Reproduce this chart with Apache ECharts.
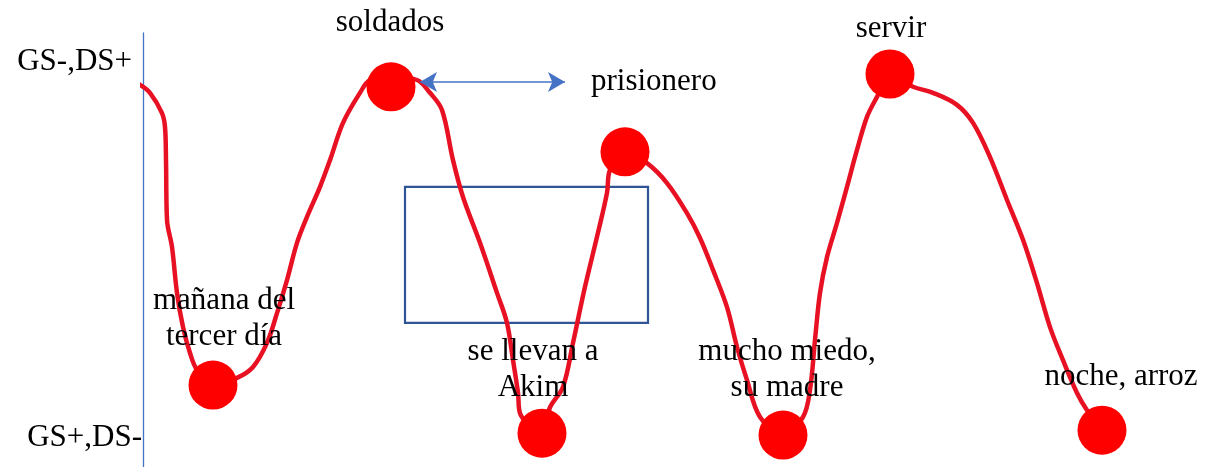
<!DOCTYPE html>
<html>
<head>
<meta charset="utf-8">
<title>GS / DS</title>
<script src="https://cdn.jsdelivr.net/npm/echarts@6/dist/echarts.min.js"></script>
<style>
    html, body { margin: 0; padding: 0; background: #fff; }
    #main { width: 1232px; height: 467px; }
</style>
</head>
<body>
<div id="main"></div>
<script>
// etiquetas del eje vertical (nivel 0 abajo, nivel 100 arriba)
var levelValues = [0, 100];
var levelLabels = ['GS+,DS-', 'GS-,DS+'];

// trazo a mano de la curva roja
var curveX = [-9, -3, 7, 19, 22, 23, 24, 29, 34, 40, 47, 54, 70, 94, 110, 124, 134, 144, 154, 164, 177, 187, 200, 217, 227,
    248, 274, 287, 299, 310, 320, 337, 354, 364, 370, 375, 377, 399, 407, 420, 430, 442, 454, 464, 467, 482,
    504, 524, 544, 557, 570, 584, 594, 604, 617, 640, 660, 667, 672, 677, 684, 694, 704, 714, 724, 734, 747,
    770, 790, 814, 830, 847, 864, 880, 894, 907, 920, 934, 944, 959];
var curveY = [94.4, 93.9, 91.8, 86.4, 82.7, 73.9, 58.0, 50.8, 38.6, 29.5, 22.6, 18.1, 14.1, 16.0, 18.9, 25.3, 33.2, 42.0, 51.9, 58.8, 66.8, 73.9, 83.8, 91.8, 95.2,
    96.0, 95.2, 91.8, 87.2, 73.9, 64.1, 51.9, 38.6, 30.6, 20.7, 12.0, 6.6, 1.3, 8.2, 13.6, 25.3, 40.2, 53.5, 65.2, 71.3, 76.1,
    73.1, 67.8, 59.8, 53.2, 44.7, 34.8, 24.2, 15.4, 5.6, 0.8, 5.6, 12.8, 26.1, 38.6, 48.1, 57.2, 66.8, 76.6, 85.4, 90.7, 96.8,
    93.4, 91.8, 88.6, 83.8, 74.7, 63.3, 52.7, 41.2, 29.5, 20.7, 12.0, 7.4, 2.1];

// puntos (círculos) y sus textos
var pointX = [70, 248, 399, 482, 640, 747, 959];
var pointY = [14.1, 93.4, 1.3, 76.1, 0.8, 96.8, 2.1];
var pointNames = ['mañana del\ntercer día', 'soldados', 'se llevan a\nAkim', '', 'mucho miedo,\nsu madre', 'servir', 'noche, arroz'];

// flecha doble "prisionero" y recuadro azul
var arrowX = [277, 422];
var arrowY = 94.7;
var arrowText = 'prisionero';
var boxX = [262, 505];
var boxY = [30.6, 66.8];

(function () {
    var myChart = echarts.init(document.getElementById('main'));

    var serif = '"Liberation Serif", "Times New Roman", serif';

    // desplazamiento de cada texto respecto a su círculo
    var labelOffsets = [[11, -66], [-1, -64], [-9, -63], [0, 0], [4, -65], [1, -45], [19, -53]];

    var curve = curveX.map(function (x, i) { return [x, curveY[i]]; });
    var points = pointX.map(function (x, i) {
        return {
            value: [x, pointY[i]],
            name: pointNames[i],
            label: { offset: labelOffsets[i] }
        };
    });

    var option = {
        animation: false,
        grid: { left: 143, right: 0, top: 33, bottom: 0 },
        xAxis: { type: 'value', min: 0, max: 1089, show: false },
        yAxis: {
            type: 'value',
            min: -7.7,
            max: 107.7,
            splitLine: { show: false },
            axisTick: { show: false },
            axisLine: { show: true, lineStyle: { color: '#4472c4', width: 1.3, opacity: 1 } },
            axisLabel: {
                customValues: levelValues,
                margin: 1,
                formatter: function (v) {
                    var i = levelValues.indexOf(v);
                    return i === 1 ? '{top|' + levelLabels[i] + '}' : '{bot|' + levelLabels[i] + '}';
                },
                rich: {
                    top: { fontFamily: serif, fontSize: 31, color: '#000', padding: [0, 10, 0, 0] },
                    bot: { fontFamily: serif, fontSize: 31, color: '#000' }
                }
            }
        },
        series: [{
            type: 'line',
            z: 2,
            data: curve,
            smooth: 0.35,
            showSymbol: false,
            clip: false,
            lineStyle: { color: '#e81123', width: 4.5 },
            markArea: {
                silent: true,
                itemStyle: { color: 'rgba(0,0,0,0)', borderColor: '#2f5597', borderWidth: 2.2 },
                data: [[{ coord: [boxX[0], boxY[1]] }, { coord: [boxX[1], boxY[0]] }]]
            },
            markLine: {
                silent: true,
                symbol: ['arrow', 'arrow'],
                symbolSize: [15, 17],
                lineStyle: { color: '#4472c4', width: 1.5, type: 'solid' },
                label: {
                    show: true,
                    position: 'end',
                    distance: 26,
                    formatter: arrowText,
                    fontFamily: serif,
                    fontSize: 31,
                    color: '#000'
                },
                data: [[{ coord: [arrowX[0], arrowY] }, { coord: [arrowX[1], arrowY] }]]
            }
        }, {
            type: 'scatter',
            z: 5,
            data: points,
            symbolSize: 49,
            itemStyle: { color: '#ff0000', opacity: 1 },
            label: {
                show: true,
                position: 'inside',
                formatter: '{b}',
                fontFamily: serif,
                fontSize: 31,
                lineHeight: 36,
                color: '#000',
                align: 'center',
                verticalAlign: 'middle'
            }
        }]
    };

    myChart.setOption(option);
})();
</script>
</body>
</html>
